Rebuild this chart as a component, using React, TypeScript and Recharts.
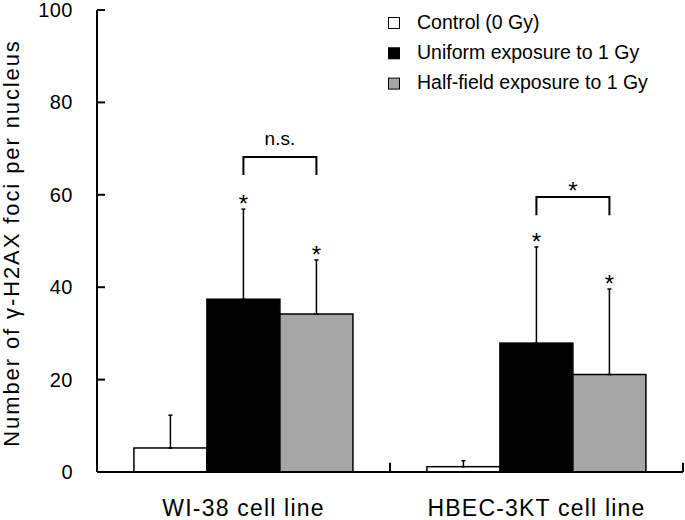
import React from 'react';
import { BarChart, Bar, XAxis, YAxis, ErrorBar, ReferenceLine, Legend } from 'recharts';

const categories = ['WI-38 cell line', 'HBEC-3KT cell line'];
const controlValues = [5.2, 1.15];
const controlErrors = [7.1, 1.3];
const uniformValues = [37.4, 27.9];
const uniformErrors = [19.5, 20.8];
const halfValues = [34.2, 21.1];
const halfErrors = [11.7, 18.5];
const uniformMarks = ['*', '*'];
const halfMarks = ['*', '*'];
const bracketLevels = [68.2, 59.5];
const bracketLegs = [3.9, 3.9];
const bracketLabels = ['n.s.', '*'];
const yTicks = [0, 20, 40, 60, 80, 100];
const seriesNames = ['Control (0 Gy)', 'Uniform exposure to 1 Gy', 'Half-field exposure to 1 Gy'];
const seriesColors = ['#ffffff', '#000000', '#a6a6a6'];
const yAxisTitle = 'Number of \u03b3-H2AX foci per nucleus';

const boundaries = categories.map((_, i) => i + 1);
const data = categories.map((c, i) => ({
  category: c,
  pos: boundaries[i],
  control: controlValues[i],
  controlErr: [0, controlErrors[i]],
  uniform: uniformValues[i],
  uniformErr: [0, uniformErrors[i]],
  half: halfValues[i],
  halfErr: [0, halfErrors[i]],
}));

const FONT = '"Liberation Sans", Arial, Helvetica, sans-serif';

const idxOf = (props: any) => {
  if (props.payload && props.payload.category !== undefined) return categories.indexOf(props.payload.category);
  return props.index ?? 0;
};

const makeShape = (values: number[], errors: number[], marks: string[], withBracket: boolean) => (props: any) => {
  const { x, y, width, height, fill } = props;
  const i = idxOf(props);
  const v = values[i];
  const ppu = v ? height / v : 0;
  const errTop = y - errors[i] * ppu;
  const cx = x + width / 2;
  let bracket: any = null;
  if (withBracket) {
    const x1 = x - width / 2;
    const x2 = x + width / 2;
    const yb = y - (bracketLevels[i] - v) * ppu;
    const yl = yb + bracketLegs[i] * ppu;
    const lbl = bracketLabels[i];
    const ty = lbl === '*' ? yb + 2 : yb - 12;
    bracket = (
      <g>
        <path d={`M${x1},${yl} L${x1},${yb} L${x2},${yb} L${x2},${yl}`} fill="none" stroke="#000" strokeWidth={2} />
        <text x={(x1 + x2) / 2} y={ty} textAnchor="middle" fontSize={lbl === '*' ? 24 : 19} fontFamily={FONT} fill="#000">
          {lbl}
        </text>
      </g>
    );
  }
  return (
    <g>
      <rect x={x} y={y} width={width} height={height} fill={fill} stroke="#000" strokeWidth={1.5} />
      <text x={cx} y={errTop + 3} textAnchor="middle" fontSize={24} fontFamily={FONT} fill="#000">
        {marks[i]}
      </text>
      {bracket}
    </g>
  );
};

const controlShape = (props: any) => (
  <rect x={props.x} y={props.y} width={props.width} height={props.height} fill={props.fill} stroke="#000" strokeWidth={1.5} />
);
const uniformShape = makeShape(uniformValues, uniformErrors, uniformMarks, false);
const halfShape = makeShape(halfValues, halfErrors, halfMarks, true);

const YTick = (props: any) => {
  const { x, y, payload } = props;
  return (
    <g>
      <line x1={x} x2={x + 8} y1={y} y2={y} stroke="#000" strokeWidth={2} />
      <text x={x - 24} y={y + 7} textAnchor="end" fontSize={20} letterSpacing={0.5} fontFamily={FONT} fill="#000">
        {payload.value}
      </text>
    </g>
  );
};

const XTick = (props: any) => {
  const { x, y, payload } = props;
  return (
    <text x={x} y={y + 44} textAnchor="middle" fontSize={23} letterSpacing={1.2} fontFamily={FONT} fill="#000">
      {payload.value}
    </text>
  );
};

const YTitle = (props: any) => {
  const vb = props.viewBox || { y: 10, height: 462 };
  const cy = vb.y + vb.height / 2 + 2;
  const tx = 18.5;
  return (
    <text x={tx} y={cy} transform={`rotate(-90, ${tx}, ${cy})`} textAnchor="middle" fontSize={22} letterSpacing={1.9} fontFamily={FONT} fill="#000">
      {yAxisTitle}
    </text>
  );
};

const LegendContent = () => (
  <svg width={307} height={100} style={{ display: 'block' }}>
    {seriesNames.map((n, i) => (
      <g key={n}>
        <rect x={10.5} y={17.5 + 30.3 * i} width={11} height={11} fill={seriesColors[i]} stroke="#000" strokeWidth={1} />
        <text x={39} y={28.5 + 30.3 * i} fontSize={19.5} fontFamily={FONT} fill="#000">
          {n}
        </text>
      </g>
    ))}
  </svg>
);

export default function App() {
  return (
    <div style={{ position: 'absolute', left: 0, top: 0, background: '#fff' }}>
      <BarChart
        width={685}
        height={520}
        data={data}
        margin={{ top: 10, right: 2, left: 0, bottom: 0 }}
        barCategoryGap="12.6%"
        barGap={0}
      >
        <XAxis
          xAxisId="cat"
          dataKey="category"
          height={48}
          tickLine={false}
          tickSize={0}
          tickMargin={0}
          tick={<XTick />}
          axisLine={{ stroke: '#000', strokeWidth: 2 }}
          interval={0}
        />
        <XAxis
          xAxisId="bound"
          dataKey="pos"
          orientation="top"
          height={0}
          type="number"
          scale="linear"
          domain={[0, 'dataMax']}
          padding={{ left: 0, right: 0 }}
          hide
        />
        <YAxis
          width={97}
          domain={[0, 100]}
          ticks={yTicks}
          interval={0}
          tickLine={false}
          tickSize={0}
          tickMargin={0}
          tick={<YTick />}
          axisLine={{ stroke: '#000', strokeWidth: 2 }}
          label={{ content: <YTitle /> }}
        />
        <Legend
          layout="horizontal"
          verticalAlign="middle"
          align="center"
          wrapperStyle={{ left: 378, top: 0, width: 307, height: 100 }}
          content={<LegendContent />}
        />
        <Bar xAxisId="cat" dataKey="control" name={seriesNames[0]} fill={seriesColors[0]} shape={controlShape} isAnimationActive={false}>
          <ErrorBar dataKey="controlErr" width={2} stroke="#000" strokeWidth={1.5} direction="y" isAnimationActive={false} />
        </Bar>
        <Bar xAxisId="cat" dataKey="uniform" name={seriesNames[1]} fill={seriesColors[1]} shape={uniformShape} isAnimationActive={false}>
          <ErrorBar dataKey="uniformErr" width={2} stroke="#000" strokeWidth={1.5} direction="y" isAnimationActive={false} />
        </Bar>
        <Bar xAxisId="cat" dataKey="half" name={seriesNames[2]} fill={seriesColors[2]} shape={halfShape} isAnimationActive={false}>
          <ErrorBar dataKey="halfErr" width={2} stroke="#000" strokeWidth={1.5} direction="y" isAnimationActive={false} />
        </Bar>
        {boundaries.map((b) => (
          <ReferenceLine
            key={`b${b}`}
            xAxisId="bound"
            segment={[{ x: b, y: 0 }, { x: b, y: 2 }]}
            stroke="#000"
            strokeWidth={2}
            ifOverflow="visible"
          />
        ))}
      </BarChart>
    </div>
  );
}
